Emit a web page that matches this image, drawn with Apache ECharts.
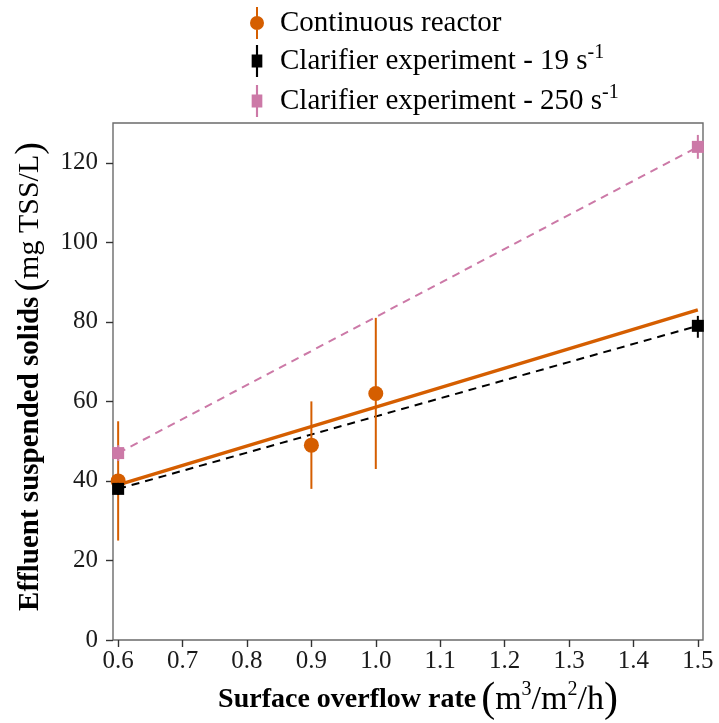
<!DOCTYPE html>
<html>
<head>
<meta charset="utf-8">
<script src="https://cdn.jsdelivr.net/npm/echarts@6/dist/echarts.min.js"></script>
<style>html,body{margin:0;padding:0;background:#fff}#c{width:719px;height:723px}</style>
</head>
<body>
<div id="c"></div>
<script>
// ---- data ----
const reactorX = [0.6, 0.9, 1.0];
const reactorMean = [40, 49, 62];
const reactorLow = [25, 38, 43];
const reactorHigh = [55, 60, 81];
const reactorFitX = [0.6, 1.5];
const reactorFitY = [39, 83];

const clarX = [0.6, 1.5];
const clar19 = [38, 79];
const clar19Low = [36.5, 76];
const clar19High = [39.5, 81.5];
const clar250 = [47, 124];
const clar250Low = [45, 121];
const clar250High = [49, 127];

const xTicks = [0.6, 0.7, 0.8, 0.9, 1.0, 1.1, 1.2, 1.3, 1.4, 1.5];
const yTicks = [0, 20, 40, 60, 80, 100, 120];

const names = ['Continuous reactor', 'Clarifier experiment - 19 s', 'Clarifier experiment - 250 s'];
const cOrange = '#D55E00', cBlack = '#000000', cPink = '#CC79A7';

// ---- helpers ----
const pts = (xs, ys) => xs.map((x, i) => [x, ys[i]]);
const bars = (xs, lo, hi) => xs.map((x, i) => [x, lo[i], hi[i]]);
function errBar(color, width) {
  return function (params, api) {
    const a = api.coord([api.value(0), api.value(1)]);
    const b = api.coord([api.value(0), api.value(2)]);
    return { type: 'line', shape: { x1: a[0], y1: a[1], x2: b[0], y2: b[1] },
      style: { stroke: color, lineWidth: width } };
  };
}
const serif = '"Liberation Serif", "DejaVu Serif", serif';

const iconCircle = 'path://M0,16A7,7 0 1,1 14,16A7,7 0 1,1 0,16Z M6,0L8,0L8,32L6,32Z';
const iconSquare = 'path://M2,10L12,10L12,22L2,22Z M6,1L8,1L8,31L6,31Z';

function titleRich(bSize, nSize, pSize, sSize) {
  return {
    b: { fontFamily: serif, fontWeight: 'bold', fontSize: bSize, color: '#000', lineHeight: 42 },
    n: { fontFamily: serif, fontSize: nSize, color: '#000', lineHeight: 42 },
    p: { fontFamily: serif, fontSize: pSize, color: '#000', lineHeight: 42 },
    q: { fontFamily: serif, fontSize: pSize, color: '#000', lineHeight: 42, padding: [0, 0, 0, 5] },
    s: { fontFamily: serif, fontSize: sSize, color: '#000', lineHeight: sSize, padding: [0, 0, 20, 0] }
  };
}

const chart = echarts.init(document.getElementById('c'), null, { renderer: 'canvas' });
chart.setOption({
  animation: false,
  backgroundColor: '#fff',
  grid: { left: 113, right: 16, top: 123, bottom: 83, outerBoundsMode: 'none', containLabel: false,
    show: true, borderColor: '#6b6b6b', borderWidth: 1.4, backgroundColor: '#fff' },
  legend: {
    orient: 'vertical', left: 245, top: 2, itemWidth: 14, itemHeight: 32, itemGap: 4,
    data: [
      { name: names[0], icon: iconCircle },
      { name: names[1], icon: iconSquare },
      { name: names[2], icon: iconSquare }
    ],
    formatter: function (n) {
      return n === names[0] ? '{t|' + n + '}' : '{t|' + n + '}{s|-1}';
    },
    textStyle: {
      padding: [0, 0, 0, 11],
      rich: {
        t: { fontFamily: serif, fontSize: 29, color: '#000', lineHeight: 36 },
        s: { fontFamily: serif, fontSize: 20, color: '#000', lineHeight: 20, padding: [0, 0, 16, 0] }
      }
    }
  },
  xAxis: {
    type: 'value', min: 0.592, max: 1.508,
    name: '{b|Surface overflow rate}{q|(}{n|m}{s|3}{n|/m}{s|2}{n|/h}{p|)}',
    nameLocation: 'middle', nameGap: 39,
    nameTextStyle: { padding: [0, 0, 0, 20], rich: titleRich(28, 34, 42, 20) },
    axisLine: { show: false },
    axisTick: { show: true, length: 7, customValues: xTicks, lineStyle: { color: '#333', width: 1.4 } },
    axisLabel: { customValues: xTicks, margin: 9, fontFamily: serif, fontSize: 25, color: '#1a1a1a',
      formatter: v => v.toFixed(1) },
    splitLine: { show: false }
  },
  yAxis: {
    type: 'value', min: 0, max: 130,
    name: '{b|Effluent suspended solids}{q|(}{n|mg TSS/L}{p|)}',
    nameLocation: 'middle', nameGap: 61, nameRotate: 90,
    nameTextStyle: { padding: [0, 0, 0, 10], rich: titleRich(29, 30, 38, 19) },
    axisLine: { show: false },
    axisTick: { show: true, length: 7, customValues: yTicks, lineStyle: { color: '#333', width: 1.4 } },
    axisLabel: { customValues: yTicks, margin: 15, fontFamily: serif, fontSize: 25, color: '#1a1a1a' },
    splitLine: { show: false }
  },
  series: [
    { type: 'line', data: pts(reactorFitX, reactorFitY), symbol: 'none', silent: true,
      lineStyle: { color: cOrange, width: 3.5 }, z: 2 },
    { type: 'line', data: pts(clarX, clar19), symbol: 'none', silent: true,
      lineStyle: { color: cBlack, width: 2, type: [8, 6] }, z: 2 },
    { type: 'line', data: pts(clarX, clar250), symbol: 'none', silent: true,
      lineStyle: { color: cPink, width: 2, type: [8, 6] }, z: 2 },
    { type: 'custom', data: bars(reactorX, reactorLow, reactorHigh), encode: { x: 0, y: [1, 2] },
      renderItem: errBar(cOrange, 2), z: 3 },
    { name: names[0], type: 'scatter', data: pts(reactorX, reactorMean), symbol: 'circle', symbolSize: 15,
      itemStyle: { color: cOrange, opacity: 1 }, z: 4 },
    { type: 'custom', data: bars(clarX, clar19Low, clar19High), encode: { x: 0, y: [1, 2] },
      renderItem: errBar(cBlack, 2), z: 5 },
    { name: names[1], type: 'scatter', data: pts(clarX, clar19), symbol: 'rect', symbolSize: 12,
      itemStyle: { color: cBlack, opacity: 1 }, z: 6 },
    { type: 'custom', data: bars(clarX, clar250Low, clar250High), encode: { x: 0, y: [1, 2] },
      renderItem: errBar(cPink, 2), z: 7 },
    { name: names[2], type: 'scatter', data: pts(clarX, clar250), symbol: 'rect', symbolSize: 12,
      itemStyle: { color: cPink, opacity: 1 }, z: 8 }
  ]
});
</script>
</body>
</html>
